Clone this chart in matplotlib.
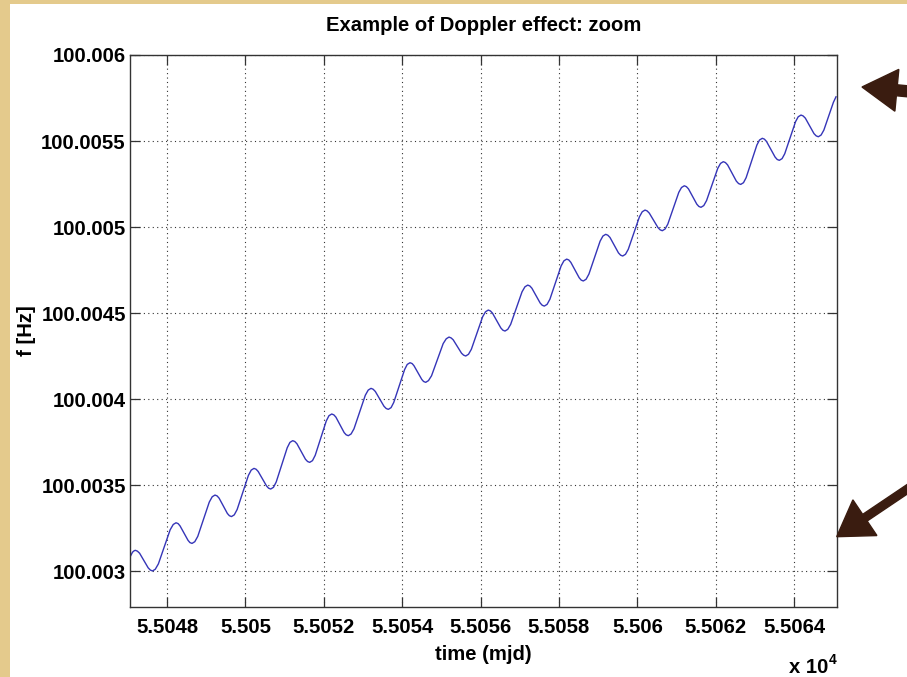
import matplotlib
matplotlib.use('Agg')
import matplotlib.pyplot as plt
from matplotlib.patches import FancyArrow, Rectangle

# readings, one row per daily wiggle:
# peak, falling side, trough, rising side
time_mjd = [
    55047.056, 55047.120, 55047.160,
    55047.191, 55047.245, 55047.301, 55047.411, 55047.520, 55047.576, 55047.630, 55047.701, 55047.780, 55047.930, 55048.080, 55048.159,
    55048.230, 55048.284, 55048.332, 55048.434, 55048.536, 55048.584, 55048.638, 55048.709, 55048.785, 55048.931, 55049.078, 55049.153,
    55049.224, 55049.278, 55049.329, 55049.435, 55049.540, 55049.591, 55049.645, 55049.716, 55049.789, 55049.932, 55050.076, 55050.148,
    55050.219, 55050.273, 55050.326, 55050.432, 55050.539, 55050.591, 55050.645, 55050.716, 55050.786, 55050.926, 55051.067, 55051.136,
    55051.207, 55051.261, 55051.315, 55051.424, 55051.532, 55051.586, 55051.640, 55051.711, 55051.781, 55051.921, 55052.062, 55052.131,
    55052.202, 55052.256, 55052.308, 55052.414, 55052.519, 55052.571, 55052.625, 55052.696, 55052.770, 55052.915, 55053.059, 55053.133,
    55053.204, 55053.258, 55053.314, 55053.425, 55053.535, 55053.591, 55053.645, 55053.716, 55053.784, 55053.922, 55054.061, 55054.128,
    55054.199, 55054.253, 55054.299, 55054.399, 55054.499, 55054.545, 55054.599, 55054.670, 55054.748, 55054.897, 55055.045, 55055.123,
    55055.194, 55055.248, 55055.301, 55055.407, 55055.514, 55055.566, 55055.620, 55055.691, 55055.764, 55055.908, 55056.052, 55056.125,
    55056.196, 55056.250, 55056.303, 55056.409, 55056.516, 55056.568, 55056.622, 55056.693, 55056.767, 55056.912, 55057.057, 55057.131,
    55057.202, 55057.256, 55057.308, 55057.414, 55057.519, 55057.571, 55057.625, 55057.696, 55057.768, 55057.911, 55058.053, 55058.125,
    55058.196, 55058.250, 55058.302, 55058.408, 55058.514, 55058.566, 55058.620, 55058.691, 55058.763, 55058.906, 55059.048, 55059.120,
    55059.191, 55059.245, 55059.300, 55059.408, 55059.517, 55059.571, 55059.625, 55059.696, 55059.767, 55059.910, 55060.052, 55060.123,
    55060.194, 55060.248, 55060.304, 55060.415, 55060.525, 55060.581, 55060.635, 55060.706, 55060.775, 55060.916, 55061.056, 55061.125,
    55061.196, 55061.250, 55061.303, 55061.409, 55061.516, 55061.568, 55061.622, 55061.693, 55061.764, 55061.907, 55062.049, 55062.120,
    55062.191, 55062.245, 55062.302, 55062.413, 55062.524, 55062.581, 55062.635, 55062.706, 55062.773, 55062.911, 55063.048, 55063.115,
    55063.186, 55063.240, 55063.295, 55063.403, 55063.512, 55063.566, 55063.620, 55063.691, 55063.758, 55063.897, 55064.035, 55064.102,
    55064.173, 55064.227, 55064.284, 55064.394, 55064.505, 55064.561, 55064.615, 55064.686, 55064.757, 55064.900, 55065.000, 55065.066,
]

freq_hz = [
    100.003083, 100.003111, 100.003119,
    100.003122, 100.003117, 100.003105, 100.003062, 100.003020, 100.003007, 100.003002, 100.003012, 100.003043, 100.003142, 100.003241, 100.003272,
    100.003282, 100.003277, 100.003264, 100.003222, 100.003180, 100.003167, 100.003162, 100.003172, 100.003203, 100.003302, 100.003402, 100.003433,
    100.003443, 100.003438, 100.003425, 100.003380, 100.003336, 100.003323, 100.003318, 100.003328, 100.003359, 100.003458, 100.003557, 100.003588,
    100.003598, 100.003593, 100.003580, 100.003538, 100.003496, 100.003483, 100.003478, 100.003488, 100.003519, 100.003618, 100.003718, 100.003749,
    100.003759, 100.003754, 100.003741, 100.003696, 100.003651, 100.003638, 100.003633, 100.003643, 100.003674, 100.003774, 100.003873, 100.003904,
    100.003914, 100.003909, 100.003896, 100.003851, 100.003806, 100.003793, 100.003788, 100.003798, 100.003828, 100.003926, 100.004023, 100.004053,
    100.004063, 100.004058, 100.004045, 100.004002, 100.003959, 100.003946, 100.003941, 100.003951, 100.003981, 100.004077, 100.004172, 100.004202,
    100.004212, 100.004207, 100.004195, 100.004155, 100.004115, 100.004103, 100.004098, 100.004108, 100.004136, 100.004230, 100.004323, 100.004351,
    100.004361, 100.004356, 100.004345, 100.004306, 100.004267, 100.004256, 100.004251, 100.004261, 100.004290, 100.004385, 100.004479, 100.004508,
    100.004518, 100.004513, 100.004500, 100.004457, 100.004414, 100.004401, 100.004396, 100.004406, 100.004435, 100.004530, 100.004624, 100.004653,
    100.004663, 100.004658, 100.004645, 100.004602, 100.004559, 100.004546, 100.004541, 100.004551, 100.004581, 100.004678, 100.004774, 100.004804,
    100.004814, 100.004809, 100.004795, 100.004751, 100.004706, 100.004692, 100.004687, 100.004697, 100.004727, 100.004822, 100.004918, 100.004948,
    100.004958, 100.004953, 100.004940, 100.004895, 100.004850, 100.004837, 100.004832, 100.004842, 100.004871, 100.004966, 100.005060, 100.005089,
    100.005099, 100.005094, 100.005081, 100.005039, 100.004997, 100.004984, 100.004979, 100.004989, 100.005017, 100.005110, 100.005202, 100.005230,
    100.005240, 100.005235, 100.005222, 100.005178, 100.005133, 100.005120, 100.005115, 100.005125, 100.005154, 100.005248, 100.005341, 100.005370,
    100.005380, 100.005375, 100.005361, 100.005314, 100.005267, 100.005253, 100.005248, 100.005258, 100.005287, 100.005382, 100.005477, 100.005506,
    100.005516, 100.005511, 100.005497, 100.005452, 100.005407, 100.005393, 100.005388, 100.005398, 100.005426, 100.005520, 100.005613, 100.005641,
    100.005651, 100.005646, 100.005633, 100.005588, 100.005543, 100.005530, 100.005525, 100.005535, 100.005564, 100.005658, 100.005725, 100.005757,
]

x_ticks = [55048, 55050, 55052, 55054, 55056, 55058, 55060, 55062, 55064]
y_ticks = [100.003, 100.0035, 100.004, 100.0045, 100.005, 100.0055, 100.006]

assert len(time_mjd) == len(freq_hz)

plt.rcParams['font.family'] = ['Liberation Sans', 'DejaVu Sans']
plt.rcParams['font.weight'] = 'bold'
fs = 14.6

W, H = 907, 677
fig = plt.figure(figsize=(W / 100, H / 100), dpi=100)
fig.patch.set_facecolor('#e4ca8c')
# white slide panel over the parchment
fig.add_artist(Rectangle((10 / W, 0), 1, (H - 4) / H, transform=fig.transFigure,
                         facecolor='white', edgecolor='none', zorder=-1))

ax = fig.add_axes([130 / W, (H - 606.7) / H, 706.7 / W, 551.7 / H])
ax.plot(time_mjd, freq_hz, color='#3535b8', lw=1.0)

ax.set_xlim(55047.056, 55065.084)
ax.set_ylim(100.0027943, 100.006)
ax.set_xticks(x_ticks)
ax.set_xticklabels([f"{v / 1e4:g}" for v in x_ticks])
ax.set_yticks(y_ticks)
ax.set_yticklabels([f"{v:.7g}" for v in y_ticks])

ax.grid(True, linestyle=(0, (1, 3)), color='#333333', lw=0.8)
ax.tick_params(direction='in', length=7, width=0.9, top=True, right=True,
               labelsize=fs, color='#333333')
ax.tick_params(axis='x', pad=8)
ax.tick_params(axis='y', pad=3)
for s in ax.spines.values():
    s.set_color('#333333')
    s.set_linewidth(1.0)

ax.set_title('Example of Doppler effect: zoom', fontsize=fs, fontweight='bold', pad=17)
fig.text(483 / W, 1 - 654 / H, 'time (mjd)', ha='center', va='center', fontsize=fs)
fig.text(26 / W, 1 - 331 / H, 'f [Hz]', rotation=90, ha='center', va='center', fontsize=fs)
fig.text(828 / W, (H - 673) / H, 'x 10', ha='right', va='baseline', fontsize=fs)
fig.text(829 / W, (H - 664) / H, '4', ha='left', va='baseline', fontsize=10)

# the hand drawn brown arrows on the right
brown = '#3a1c10'
fig.add_artist(FancyArrow(9.15, 5.85, -0.53, 0.05, width=0.11, head_width=0.42,
                          head_length=0.35, length_includes_head=True,
                          transform=fig.dpi_scale_trans, color=brown))
fig.add_artist(FancyArrow(9.15, 1.93, -0.783, -0.527, width=0.08, head_width=0.43,
                          head_length=0.34, length_includes_head=True,
                          transform=fig.dpi_scale_trans, color=brown))

fig.savefig('out.png', dpi=100)
